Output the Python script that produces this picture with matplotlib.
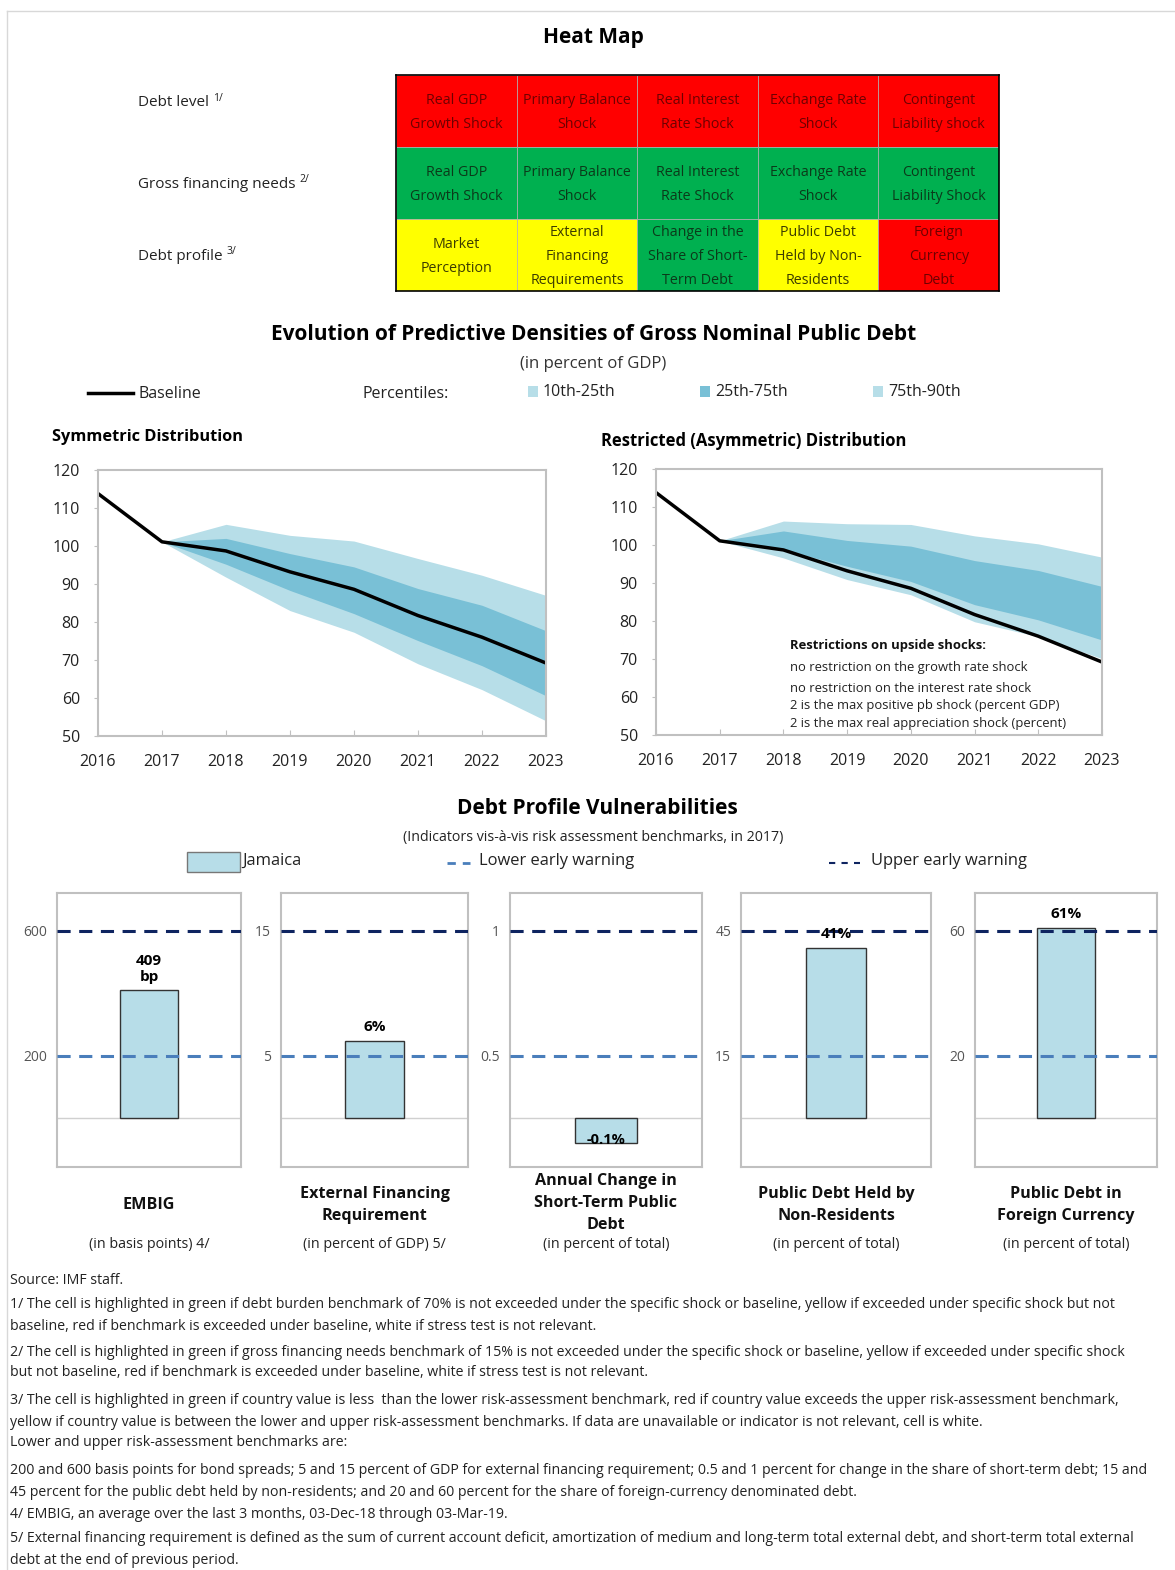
import numpy as np
import matplotlib.pyplot as plt
from matplotlib.patches import Rectangle

plt.rcParams['font.family'] = ['Open Sans', 'DejaVu Sans']

# Heat map
heat_rows = ['Debt level', 'Gross financing needs', 'Debt profile']
heat_notes = ['1/', '2/', '3/']
heat_text = [
    ['Real GDP\nGrowth Shock', 'Primary Balance\nShock', 'Real Interest\nRate Shock', 'Exchange Rate\nShock', 'Contingent\nLiability shock'],
    ['Real GDP\nGrowth Shock', 'Primary Balance\nShock', 'Real Interest\nRate Shock', 'Exchange Rate\nShock', 'Contingent\nLiability Shock'],
    ['Market\nPerception', 'External\nFinancing\nRequirements', 'Change in the\nShare of Short-\nTerm Debt', 'Public Debt\nHeld by Non-\nResidents', 'Foreign\nCurrency\nDebt'],
]
heat_status = [
    ['red', 'red', 'red', 'red', 'red'],
    ['green', 'green', 'green', 'green', 'green'],
    ['yellow', 'yellow', 'green', 'yellow', 'red'],
]
cell_fill = {'red': '#ff0000', 'green': '#00b050', 'yellow': '#ffff00'}
cell_ink = {'red': '#6e0000', 'green': '#0b3a1a', 'yellow': '#3c3c00'}

# Fan charts
years = [2016, 2017, 2018, 2019, 2020, 2021, 2022, 2023]
baseline = [113.8, 101.1, 98.7, 93.2, 88.6, 81.7, 76.0, 69.2]
band_years = years[1:]
sym_p10 = [101.1, 91.8, 83.0, 77.3, 69.0, 62.2, 54.0]
sym_p25 = [101.1, 95.2, 88.3, 82.2, 75.1, 68.5, 60.6]
sym_p75 = [101.1, 102.0, 98.0, 94.5, 88.8, 84.4, 77.7]
sym_p90 = [101.1, 105.7, 102.8, 101.3, 96.7, 92.3, 87.0]
asym_p10 = [101.1, 96.6, 90.9, 86.9, 79.8, 75.9, 70.1]
asym_p25 = [101.1, 98.8, 94.4, 90.4, 84.3, 80.3, 75.0]
asym_p75 = [101.1, 103.7, 101.2, 99.7, 95.9, 93.3, 89.1]
asym_p90 = [101.1, 106.3, 105.6, 105.4, 102.4, 100.3, 96.8]
restrictions = ['no restriction on the growth rate shock',
                'no restriction on the interest rate shock',
                '2 is the max positive pb shock (percent GDP)',
                '2 is the max real appreciation shock (percent)']

# Debt profile bars
bar_titles = ['EMBIG', 'External Financing\nRequirement', 'Annual Change in\nShort-Term Public\nDebt',
              'Public Debt Held by\nNon-Residents', 'Public Debt in\nForeign Currency']
bar_units = ['(in basis points) 4/', '(in percent of GDP) 5/', '(in percent of total)',
             '(in percent of total)', '(in percent of total)']
bar_values = [409, 6.2, -0.1, 41, 61]
bar_labels = ['409\nbp', '6%', '-0.1%', '41%', '61%']
lower_warn = [200, 5, 0.5, 15, 20]
upper_warn = [600, 15, 1, 45, 60]
warn_ticks = [['200', '600'], ['5', '15'], ['0.5', '1'], ['15', '45'], ['20', '60']]

footnotes = [
    'Source: IMF staff.',
    '1/ The cell is highlighted in green if debt burden benchmark of 70% is not exceeded under the specific shock or baseline, yellow if exceeded under specific shock but not',
    'baseline, red if benchmark is exceeded under baseline, white if stress test is not relevant.',
    '2/ The cell is highlighted in green if gross financing needs benchmark of 15% is not exceeded under the specific shock or baseline, yellow if exceeded under specific shock',
    'but not baseline, red if benchmark is exceeded under baseline, white if stress test is not relevant.',
    '3/ The cell is highlighted in green if country value is less  than the lower risk-assessment benchmark, red if country value exceeds the upper risk-assessment benchmark,',
    'yellow if country value is between the lower and upper risk-assessment benchmarks. If data are unavailable or indicator is not relevant, cell is white.',
    'Lower and upper risk-assessment benchmarks are:',
    '200 and 600 basis points for bond spreads; 5 and 15 percent of GDP for external financing requirement; 0.5 and 1 percent for change in the share of short-term debt; 15 and',
    '45 percent for the public debt held by non-residents; and 20 and 60 percent for the share of foreign-currency denominated debt.',
    '4/ EMBIG, an average over the last 3 months, 03-Dec-18 through 03-Mar-19.',
    '5/ External financing requirement is defined as the sum of current account deficit, amortization of medium and long-term total external debt, and short-term total external',
    'debt at the end of previous period.',
]
footnote_y = [1281, 1305, 1326, 1352, 1373, 1401, 1422, 1443, 1471, 1492, 1515, 1539, 1560]

light_band = '#b7dee8'
dark_band = '#79c0d6'
bar_color = '#b7dde8'
navy = '#0e2460'
steel = '#4a7ebb'
frame = '#c0c0c0'

W, H = 1175, 1570
fig = plt.figure(figsize=(W / 100, H / 100), dpi=100)


def px_axes(x0, y0, x1, y1):
    return fig.add_axes([x0 / W, 1 - y1 / H, (x1 - x0) / W, (y1 - y0) / H])


# overlay for titles, legends and notes, drawn on top
ov = fig.add_axes([0, 0, 1, 1])
ov.set_xlim(0, W)
ov.set_ylim(H, 0)
ov.axis('off')
ov.set_zorder(10)
ov.plot([7, W], [11, 11], color='#d8d8d8', lw=1)
ov.plot([7, 7], [11, H], color='#d8d8d8', lw=1)

# ---- heat map ----
ov.text(593, 38, 'Heat Map', ha='center', va='center', fontsize=15, weight='bold')
for i, (lab, note) in enumerate(zip(heat_rows, heat_notes)):
    t = ov.text(138, [103, 184, 256][i], lab, va='center', fontsize=11, color='#222')
    ov.annotate(note, xy=(1, 1), xycoords=t, xytext=(3, 2), textcoords='offset points',
                ha='left', va='top', fontsize=7.5, color='#222')

hm = px_axes(396, 75, 999, 291)
hm.set_xlim(0, 5)
hm.set_ylim(3, 0)
for i in range(len(heat_text)):
    for j in range(len(heat_text[i])):
        st = heat_status[i][j]
        hm.add_patch(Rectangle((j, i), 1, 1, facecolor=cell_fill[st], edgecolor='#b0b0b0', lw=0.5))
        hm.text(j + 0.5, i + 0.52, heat_text[i][j], ha='center', va='center', fontsize=10.3,
                color=cell_ink[st], linespacing=1.8)
hm.set_xticks([])
hm.set_yticks([])
for s in hm.spines.values():
    s.set_color('black')
    s.set_linewidth(1.2)

# ---- fan charts ----
ov.text(594, 335, 'Evolution of Predictive Densities of Gross Nominal Public Debt',
        ha='center', va='center', fontsize=15, weight='bold')
ov.text(593, 364, '(in percent of GDP)', ha='center', va='center', fontsize=12, color='#333')
ov.plot([88, 133], [393, 393], color='black', lw=2.5)
ov.text(139, 394, 'Baseline', va='center', fontsize=11.5, color='#222')
ov.text(362, 394, 'Percentiles:', va='center', fontsize=11.5, color='#222')
for x, c, lab in [(528, light_band, '10th-25th'), (700, dark_band, '25th-75th'), (873, light_band, '75th-90th')]:
    ov.add_patch(Rectangle((x, 386), 10, 11, facecolor=c, edgecolor='none'))
    ov.text(x + 15, 392, lab, va='center', fontsize=11.5, color='#222')

ov.text(52, 437, 'Symmetric Distribution', va='center', fontsize=11.8, weight='bold')
ov.text(601, 441, 'Restricted (Asymmetric) Distribution', va='center', fontsize=12, weight='bold')


def fan(ax, p10, p25, p75, p90):
    ax.fill_between(band_years, p10, p90, color=light_band, lw=0)
    ax.fill_between(band_years, p25, p75, color=dark_band, lw=0)
    ax.plot(years, baseline, color='black', lw=2.5)
    ax.set_xlim(2016, 2023)
    ax.set_ylim(50, 120)
    ax.set_xticks(years)
    ax.set_yticks(range(50, 121, 10))
    ax.tick_params(axis='x', direction='in', length=4, color=frame, pad=13, labelsize=11.5, labelcolor='#222')
    ax.tick_params(axis='y', direction='out', length=3, color=frame, pad=10, labelsize=11.5, labelcolor='#222')
    for s in ax.spines.values():
        s.set_color(frame)
        s.set_linewidth(1.5)


axl = px_axes(98, 470, 546, 736)
fan(axl, sym_p10, sym_p25, sym_p75, sym_p90)
axr = px_axes(656, 469, 1102, 735)
fan(axr, asym_p10, asym_p25, asym_p75, asym_p90)
ov.text(790, 646, 'Restrictions on upside shocks:', va='center', fontsize=9.4, weight='bold', color='#111')
for y, line in zip([667, 688, 706, 724], restrictions):
    ov.text(790, y, line, va='center', fontsize=9.4, color='#222')

# ---- debt profile ----
ov.text(597, 808, 'Debt Profile Vulnerabilities', ha='center', va='center', fontsize=15, weight='bold')
ov.text(593, 838, '(Indicators vis-à-vis risk assessment benchmarks, in 2017)',
        ha='center', va='center', fontsize=10.2, color='#222')
ov.add_patch(Rectangle((187, 852), 53, 20, facecolor=bar_color, edgecolor='#777777', lw=1))
ov.text(242, 861, 'Jamaica', va='center', fontsize=11.9, color='#222')
ov.plot([447, 470], [863, 863], color=steel, lw=2, dashes=(3, 2.5))
ov.text(479, 861, 'Lower early warning', va='center', fontsize=11.9, color='#222')
ov.plot([829, 860], [863, 863], color=navy, lw=1.5, dashes=(3, 3))
ov.text(871, 861, 'Upper early warning', va='center', fontsize=11.9, color='#222')


def warn_scale(lo, hi):
    s1 = 1.0 / lo
    s2 = 2.0 / (hi - lo)

    def fwd(v):
        v = np.asarray(v, dtype=float)
        return np.where(v < 0, v * s2, np.where(v < lo, v * s1, 1 + (v - lo) * s2))

    def inv(u):
        u = np.asarray(u, dtype=float)
        return np.where(u < 0, u / s2, np.where(u < 1, u / s1, lo + (u - 1) / s2))

    return fwd, inv


boxes = [(57, 241), (281, 468), (510, 702), (741, 931), (975, 1157)]
title_y = [1205, 1205, 1203, 1205, 1205]
for k, (x0, x1) in enumerate(boxes):
    ax = px_axes(x0, 893, x1, 1167)
    fwd, inv = warn_scale(lower_warn[k], upper_warn[k])
    ax.set_yscale('function', functions=(fwd, inv))
    ax.set_ylim(float(inv(-0.79)), float(inv(3.61)))
    ax.set_xlim(-0.5, 0.5)
    ax.axhline(0, color='#d0d0d0', lw=1, zorder=1)
    ax.bar(0, bar_values[k], width=0.32, color=bar_color, edgecolor='#333333', lw=1, zorder=2)
    ax.axhline(upper_warn[k], color=navy, lw=2.2, dashes=(4.3, 2.8), zorder=3)
    ax.axhline(lower_warn[k], color=steel, lw=2.2, dashes=(4.3, 2.8), zorder=3)
    v = bar_values[k]
    if v >= 0:
        ax.annotate(bar_labels[k], xy=(0, v), xytext=(0, 5), textcoords='offset points',
                    ha='center', va='bottom', fontsize=11, weight='bold', linespacing=1.15, zorder=4)
    else:
        ax.annotate(bar_labels[k], xy=(0, v), xytext=(0, -3), textcoords='offset points',
                    ha='center', va='bottom', fontsize=10.5, weight='bold', zorder=4)
    ax.set_xticks([])
    ax.set_yticks([lower_warn[k], upper_warn[k]])
    ax.set_yticklabels(warn_ticks[k])
    ax.yaxis.set_minor_locator(plt.NullLocator())
    ax.tick_params(axis='y', length=0, pad=7, labelsize=10, labelcolor='#555555')
    for s in ax.spines.values():
        s.set_color(frame)
        s.set_linewidth(1.5)
    cx = (x0 + x1) / 2
    ov.text(cx, title_y[k], bar_titles[k], ha='center', va='center', fontsize=11.6,
            weight='bold', linespacing=1.5, color='#111')
    ov.text(cx, 1245, bar_units[k], ha='center', va='center', fontsize=10.3, color='#222')

# ---- footnotes ----
for y, line in zip(footnote_y, footnotes):
    ov.text(10, y, line, va='center', fontsize=10.15, color='#222')

fig.savefig('out.png', dpi=100)
